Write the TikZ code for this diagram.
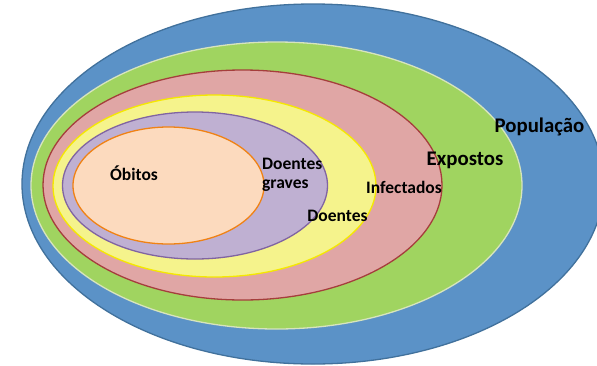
\documentclass[tikz,border=0pt]{standalone}
\usepackage{fontspec}
\setmainfont{Carlito}
\definecolor{bluefill}{RGB}{91,146,199}
\definecolor{blueline}{RGB}{65,113,156}
\definecolor{greenfill}{RGB}{160,212,96}
\definecolor{greenline}{RGB}{215,228,189}
\definecolor{pinkfill}{RGB}{224,166,165}
\definecolor{pinkline}{RGB}{165,62,60}
\definecolor{yellowfill}{RGB}{245,243,140}
\definecolor{yellowline}{RGB}{245,232,0}
\definecolor{purplefill}{RGB}{191,176,210}
\definecolor{purpleline}{RGB}{128,100,162}
\definecolor{peachfill}{RGB}{252,218,190}
\definecolor{peachline}{RGB}{240,130,20}
\tikzset{
  ring/.style={line width=1.3pt},
  smalllabel/.style={font=\bfseries\fontsize{17.5}{19}\selectfont, inner sep=0pt, text=black},
  biglabel/.style={font=\bfseries\fontsize{20.8}{23}\selectfont, inner sep=0pt, text=black}
}
\begin{document}
\begin{tikzpicture}[x=1pt,y=-1pt]
\useasboundingbox (0,0) rectangle (597,365);
\fill[white] (0,0) rectangle (597,365);
\draw[ring, fill=bluefill, draw=blueline] (313,184) ellipse [x radius=291pt, y radius=180pt];
\draw[ring, fill=greenfill, draw=greenline] (276.5,185.5) ellipse [x radius=245.5pt, y radius=143.5pt];
\draw[ring, fill=pinkfill, draw=pinkline] (242.5,185) ellipse [x radius=199.5pt, y radius=115pt];
\draw[ring, fill=yellowfill, draw=yellowline] (214.5,186) ellipse [x radius=161.5pt, y radius=91pt];
\draw[ring, fill=purplefill, draw=purpleline] (195,185.5) ellipse [x radius=132.5pt, y radius=73.5pt];
\draw[ring, fill=peachfill, draw=peachline] (168.5,185.5) ellipse [x radius=95.5pt, y radius=58.5pt];
\node[biglabel, anchor=base] (populacao) at (539.5,132) {População};
\node[biglabel, anchor=base] (expostos) at (465,165) {Expostos};
\node[smalllabel, anchor=base] (infectados) at (404,193) {Infectados};
\node[smalllabel, anchor=base] (doentes) at (337.5,221) {Doentes};
\node[smalllabel, anchor=base west, align=left] (graves) at (262,188) {Doentes\\graves};
\node[smalllabel, anchor=base] (obitos) at (134,180) {Óbitos};
\end{tikzpicture}
\end{document}
